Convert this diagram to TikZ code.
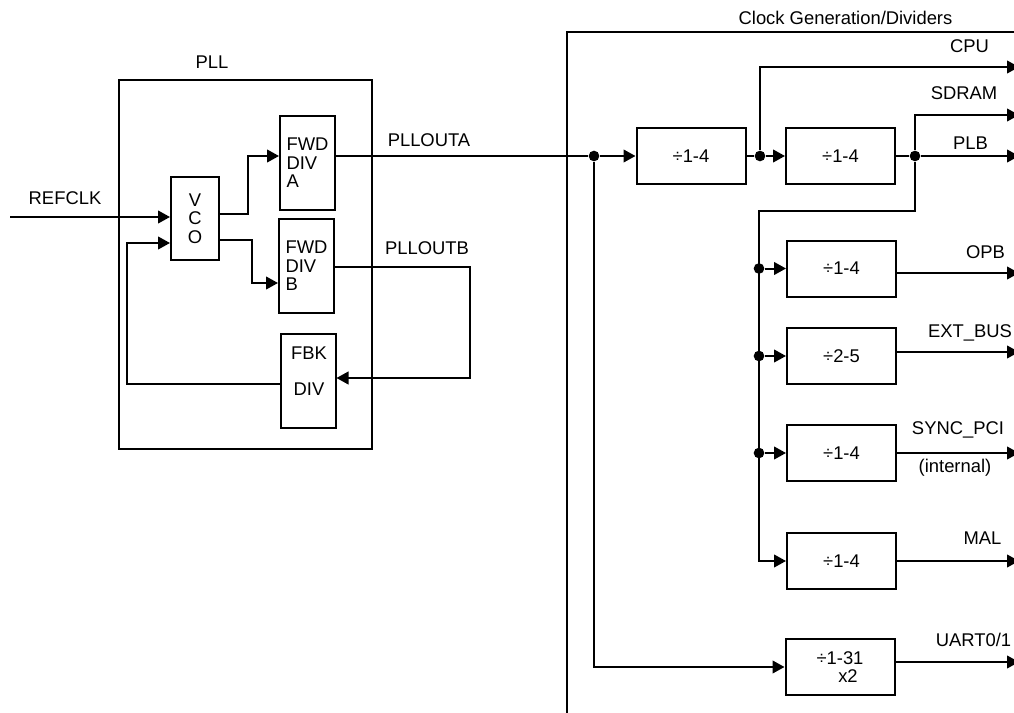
\documentclass[tikz,border=0pt]{standalone}
\usepackage{fontspec}
\setmainfont{Liberation Sans}
\usetikzlibrary{arrows.meta,positioning,calc}

\begin{document}
\begin{tikzpicture}[
    x=0.75pt, y=-0.75pt,
    >={Triangle[length=9pt,width=9.5pt]},
    line width=1.5pt,
    font=\fontsize{13.8pt}{14pt}\selectfont,
    blk/.style={draw, inner sep=0pt, minimum width=41.25pt, minimum height=70pt, align=left},
    divbox/.style={draw, inner sep=0pt, minimum width=81.75pt, minimum height=42pt},
    tap/.style={circle, fill, inner sep=0pt, minimum size=8pt},
    lbl/.style={inner sep=0pt},
  ]
    \useasboundingbox (0,0) rectangle (1014,713);

    % --- PLL ---
    \node[draw, minimum width=189.75pt, minimum height=276.75pt] (pll) at (245.5,264.5) {};
    \node[lbl] (pllname) at (212,62) {PLL};
    \node[blk, minimum width=36pt, minimum height=62.25pt, align=center] (vco) at (195,218.5) {V\\C\\O};
    \node[blk] (fwda) at (307.5,163) {FWD\\DIV\\A};
    \node[blk] (fwdb) at (306.5,266) {FWD\\DIV\\B};
    \node[blk, minimum height=70.5pt] (fbk) at (308,381) {};
    \node[lbl, align=center] (fbktext) at ($(fbk.center)+(1,-10)$) {FBK\\[13pt]DIV};

    \coordinate (refin) at (10,217);
    \draw[->] (refin) -- (refin -| vco.west);
    \node[lbl] (refclk) at (65,198) {REFCLK};

    \draw[->] ($(vco.east)+(0,-4.5)$) -- ++(28,0) |- ($(fwda.west)+(0,-7)$);
    \draw[->] ($(vco.east)+(0,21.5)$) -- ++(32,0) |- ($(fwdb.west)+(0,17)$);
    \draw[->] ($(fwdb.east)+(0,1)$) -- ++(135,0) |- ($(fbk.east)+(0,-3)$);
    \draw[->] ($(fbk.west)+(0,3)$) -| ($(vco.west)+(-43,24.5)$) -- ($(vco.west)+(0,24.5)$);
    \node[lbl] (plloutb) at (427,248) {PLLOUTB};

    % --- clock generation / dividers ---
    \draw (567,725) |- (1025,32);
    \node[lbl] (clkgen) at (845.5,18) {Clock Generation/Dividers};

    \node[tap] (t0) at (594,156) {};
    \draw ($(fwda.east)+(0,-7)$) -- (t0);
    \node[lbl] (pllouta) at (429,140) {PLLOUTA};

    \node[divbox] (div1) at (691,156) {÷1-4};
    \node[divbox] (div2) at (840.5,156) {÷1-4};
    \draw[->] (t0) -- (div1.west);
    \node[tap] (t1) at (760,156) {};
    \draw (div1.east) -- (t1);
    \draw[->] (t1) -- (div2.west);

    \coordinate (cpuend) at (1019,67);
    \coordinate (sdramend) at (1019,115);
    \draw[->] (t1) |- (cpuend);
    \node[tap] (t2) at (915,156) {};
    \draw (div2.east) -- (t2);
    \draw[->] (t2) |- (sdramend);
    \draw[->] (t2) -- (t2 -| cpuend);
    \node[lbl] (cpu) at (969.5,46) {CPU};
    \node[lbl] (sdram) at (964,93) {SDRAM};
    \node[lbl] (plb) at (970.5,143) {PLB};

    % --- bus fed from PLB tap ---
    \node[divbox] (opb) at (841.5,268.5) {÷1-4};
    \node[divbox] (ext) at (841.5,356) {÷2-5};
    \node[divbox] (sync) at (841.5,453) {÷1-4};
    \node[divbox] (mal) at (841.5,561) {÷1-4};
    \node[divbox, align=center] (uart) at (840,667) {÷1-31\\[-1pt]\hspace*{12pt}x2};

    \coordinate (bustop) at (759,211);
    \draw[->] (t2) |- (bustop) |- (mal.west);
    \node[tap] (t3) at (bustop |- opb.west) {};
    \node[tap] (t4) at (bustop |- ext.west) {};
    \node[tap] (t5) at (bustop |- sync.west) {};
    \draw[->] (t3) -- (opb.west);
    \draw[->] (t4) -- (ext.west);
    \draw[->] (t5) -- (sync.west);
    \draw[->] (t0) |- (uart.west);

    \draw[->] ($(opb.east)+(0,4.5)$) -- ($(opb.east -| cpuend)+(0,4.5)$);
    \draw[->] ($(ext.east)+(0,-4)$) -- ($(ext.east -| cpuend)+(0,-4)$);
    \draw[->] (sync.east) -- (sync.east -| cpuend);
    \draw[->] (mal.east) -- (mal.east -| cpuend);
    \draw[->] ($(uart.east)+(0,-5)$) -- ($(uart.east -| cpuend)+(0,-5)$);

    \node[lbl] (opbname) at (985.5,252) {OPB};
    \node[lbl] (extname) at (970,333) {EXT\_BUS};
    \node[lbl] (syncname) at (958,430) {SYNC\_PCI};
    \node[lbl] (internal) at (955,468) {(internal)};
    \node[lbl] (malname) at (982.5,538) {MAL};
    \node[lbl] (uartname) at (973.5,640) {UART0/1};
  \end{tikzpicture}
\end{document}
